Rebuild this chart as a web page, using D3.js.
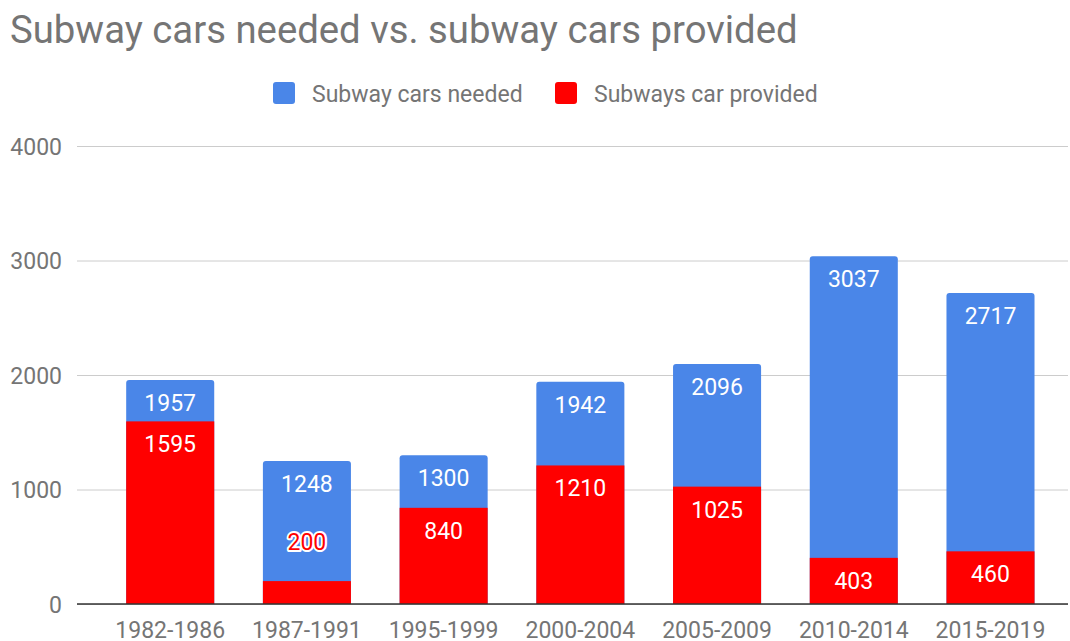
<!DOCTYPE html>
<html>
<head>
<meta charset="utf-8">
<script src="https://cdn.jsdelivr.net/npm/d3@7"></script>
<style>
  html, body { margin: 0; padding: 0; background: #fff; }
  svg { display: block; font-family: Roboto, "Noto Sans", sans-serif; }
</style>
</head>
<body>
<svg id="chart" width="1070" height="641"></svg>
<script>
const categories = ["1982-1986", "1987-1991", "1995-1999", "2000-2004", "2005-2009", "2010-2014", "2015-2019"];
const carsNeeded = [1957, 1248, 1300, 1942, 2096, 3037, 2717];
const carsProvided = [1595, 200, 840, 1210, 1025, 403, 460];
const yTicks = [0, 1000, 2000, 3000, 4000];
const seriesNames = ["Subway cars needed", "Subways car provided"];
const seriesColors = ["#4a86e8", "#ff0000"];
const titleText = "Subway cars needed vs. subway cars provided";

const svg = d3.select("#chart");
const plot = { left: 77, right: 1068, top: 146, bottom: 604 };

const x = d3.scaleBand()
  .domain(categories)
  .range([101.85, 1058.85])
  .paddingInner(0.356)
  .paddingOuter(0.178);

const y = d3.scaleLinear().domain([0, 4000]).range([plot.bottom, plot.top]);

// Title
svg.append("text")
  .attr("x", 10).attr("y", 43)
  .attr("font-size", 38.3)
  .attr("fill", "#757575")
  .text(titleText);

// Legend
const legend = svg.append("g");
const legendItems = [{ x: 273, tx: 312 }, { x: 555, tx: 594 }];
seriesNames.forEach((name, i) => {
  legend.append("rect")
    .attr("x", legendItems[i].x).attr("y", 82)
    .attr("width", 22).attr("height", 22)
    .attr("rx", 3)
    .attr("fill", seriesColors[i]);
  legend.append("text")
    .attr("x", legendItems[i].tx).attr("y", 101.5)
    .attr("font-size", 23)
    .attr("fill", "#757575")
    .text(name);
});

// Grid lines + y labels
const yAxis = d3.axisLeft(y).tickValues(yTicks).tickSize(-(plot.right - plot.left)).tickPadding(15).tickFormat(d3.format("d"));
const gy = svg.append("g")
  .attr("transform", `translate(${plot.left},0)`)
  .call(yAxis);
gy.select(".domain").remove();
gy.selectAll(".tick line").attr("stroke", "#cccccc").attr("stroke-width", 1);
gy.selectAll(".tick text")
  .attr("font-size", 23)
  .attr("font-family", "Roboto, sans-serif")
  .attr("fill", "#757575")
  .attr("x", 62 - plot.left)
  .attr("dy", "0.35em");

// Bars: needed (blue, rounded top), provided (red) overlaid
const bw = x.bandwidth();
const r = 3;
function topRoundedPath(x0, y0, w, h, rad) {
  const rr = Math.min(rad, h);
  return `M${x0},${y0 + h}V${y0 + rr}Q${x0},${y0} ${x0 + rr},${y0}H${x0 + w - rr}Q${x0 + w},${y0} ${x0 + w},${y0 + rr}V${y0 + h}Z`;
}

svg.append("g").selectAll("path")
  .data(categories)
  .join("path")
  .attr("d", (c, i) => topRoundedPath(x(c), y(carsNeeded[i]), bw, y(0) - y(carsNeeded[i]), r))
  .attr("fill", seriesColors[0]);

svg.append("g").selectAll("rect")
  .data(categories)
  .join("rect")
  .attr("x", c => x(c))
  .attr("y", (c, i) => y(carsProvided[i]))
  .attr("width", bw)
  .attr("height", (c, i) => y(0) - y(carsProvided[i]))
  .attr("fill", seriesColors[1]);

// X axis labels + baseline
const xAxis = d3.axisBottom(x).tickSize(0).tickPadding(18);
const gx = svg.append("g")
  .attr("transform", `translate(0,${plot.bottom})`)
  .call(xAxis);
gx.select(".domain").remove();
gx.selectAll(".tick text")
  .attr("font-size", 23)
  .attr("font-family", "Roboto, sans-serif")
  .attr("fill", "#757575")
  .attr("y", 34)
  .attr("dy", 0);
svg.append("line")
  .attr("x1", plot.left).attr("x2", plot.right)
  .attr("y1", plot.bottom).attr("y2", plot.bottom)
  .attr("stroke", "#333333").attr("stroke-width", 1.5);

// Data labels
const labels = svg.append("g").attr("font-size", 23).attr("text-anchor", "middle");
labels.selectAll("text.needed")
  .data(categories)
  .join("text")
  .attr("class", "needed")
  .attr("x", c => x(c) + bw / 2)
  .attr("y", (c, i) => y(carsNeeded[i]) + 31)
  .attr("fill", "#ffffff")
  .text((c, i) => carsNeeded[i]);

labels.selectAll("text.provided")
  .data(categories)
  .join("text")
  .attr("class", "provided")
  .each(function (c, i) {
    const top = y(carsProvided[i]);
    const h = y(0) - top;
    const sel = d3.select(this)
      .attr("x", x(c) + bw / 2)
      .text(carsProvided[i]);
    if (h >= 40) {
      sel.attr("y", top + 31).attr("fill", "#ffffff");
    } else {
      sel.attr("y", top - 31)
        .attr("fill", seriesColors[1])
        .attr("stroke", "#ffffff")
        .attr("stroke-width", 4)
        .attr("stroke-linejoin", "round")
        .attr("paint-order", "stroke");
    }
  });
</script>
</body>
</html>
